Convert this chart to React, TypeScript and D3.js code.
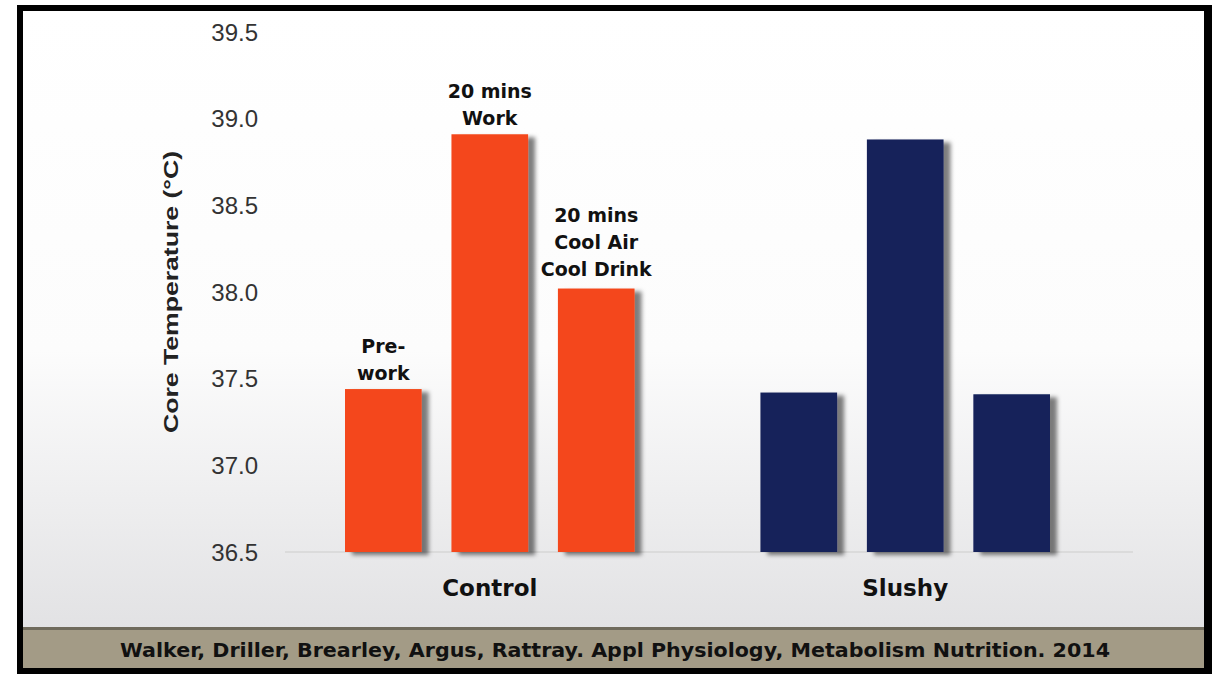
import React from "react";
import * as d3 from "d3";

const groups = ["Control", "Slushy"];
const phases = ["Pre-work", "20 mins Work", "20 mins Cool"];
const controlValues = [37.44, 38.91, 38.02];
const slushyValues = [37.42, 38.88, 37.41];
const yTicks = [36.5, 37.0, 37.5, 38.0, 38.5, 39.0, 39.5];
const controlLabels = [["Pre-", "work"], ["20 mins", "Work"], ["20 mins", "Cool Air", "Cool Drink"]];
const groupColors = ["#f4471a", "#12205a"];
const yTitle = "Core Temperature (°C)";
const citation = "Walker, Driller, Brearley, Argus, Rattray. Appl Physiology, Metabolism Nutrition. 2014";

const W = 1220;
const H = 674;

export default function App() {
  const y = d3.scaleLinear().domain([36.5, 39.5]).range([552, 32]);
  const xGroup = d3.scaleBand().domain(groups).range([345, 1050]).paddingInner(0.303).paddingOuter(0);
  const xInner = d3.scaleBand().domain(phases).range([0, xGroup.bandwidth()]).paddingInner(0.28).paddingOuter(0);
  const seriesByGroup = [controlValues, slushyValues];
  const labelFont = "'DejaVu Sans', sans-serif";

  return (
    <div style={{ position: "fixed", left: 0, top: 0, width: W, height: H, background: "#fff" }}>
      <svg width={W} height={H} viewBox={`0 0 ${W} ${H}`}>
        <defs>
          <linearGradient id="bg" x1="0" y1="0" x2="0" y2="1">
            <stop offset="0%" stopColor="#ffffff" />
            <stop offset="55%" stopColor="#fcfcfc" />
            <stop offset="100%" stopColor="#e2e2e4" />
          </linearGradient>
          <filter id="shadow" x="-20%" y="-10%" width="150%" height="120%">
            <feDropShadow dx="7" dy="3" stdDeviation="2.2" floodColor="#000" floodOpacity="0.5" />
          </filter>
        </defs>
        {/* frame */}
        <rect x={17} y={5} width={1195} height={669} fill="#000" />
        <rect x={23} y={11} width={1181} height={617} fill="url(#bg)" />
        <rect x={23} y={628} width={1181} height={40} fill="#a39b86" />
        <rect x={23} y={627} width={1181} height={3} fill="#6f6a5c" />
        <text
          x={615}
          y={657}
          textAnchor="middle"
          fontFamily={labelFont}
          fontWeight="bold"
          fontSize={19}
          fill="#111"
          textLength={990}
          lengthAdjust="spacingAndGlyphs"
        >
          {citation}
        </text>

        {/* baseline */}
        <line x1={285} x2={1133} y1={y(36.5)} y2={y(36.5)} stroke="#d6d6d6" strokeWidth={1.5} />

        {/* y ticks */}
        {yTicks.map((t) => (
          <text
            key={t}
            x={258}
            y={y(t)}
            dy="0.36em"
            textAnchor="end"
            fontFamily="'Liberation Sans', Arial, sans-serif"
            fontSize={24}
            fill="#333"
          >
            {d3.format(".1f")(t)}
          </text>
        ))}

        {/* y title */}
        <text
          transform={`translate(178,${y(38.0)}) rotate(-90)`}
          textAnchor="middle"
          fontFamily="'Liberation Sans', Arial, sans-serif"
          fontWeight="bold"
          fontSize={21}
          fill="#222"
          textLength={282}
          lengthAdjust="spacingAndGlyphs"
        >
          {yTitle}
        </text>

        {/* bars */}
        {groups.map((g, gi) => (
          <g key={g} transform={`translate(${xGroup(g)},0)`}>
            {phases.map((p, pi) => {
              const v = seriesByGroup[gi][pi];
              return (
                <rect
                  key={p}
                  x={xInner(p)}
                  y={y(v)}
                  width={xInner.bandwidth()}
                  height={y(36.5) - y(v)}
                  fill={groupColors[gi]}
                  filter="url(#shadow)"
                />
              );
            })}
            <text
              x={xGroup.bandwidth() / 2}
              y={596}
              textAnchor="middle"
              fontFamily={labelFont}
              fontWeight="bold"
              fontSize={23}
              fill="#111"
            >
              {g}
            </text>
          </g>
        ))}

        {/* control bar labels */}
        {phases.map((p, pi) => {
          const cx = (xGroup("Control") as number) + (xInner(p) as number) + xInner.bandwidth() / 2;
          const lines = controlLabels[pi];
          const top = y(controlValues[pi]);
          const gap = lines.length > 2 ? 13 : 9;
          return (
            <text
              key={p}
              x={cx}
              textAnchor="middle"
              fontFamily={labelFont}
              fontWeight="bold"
              fontSize={19}
              fill="#111"
            >
              {lines.map((l, li) => (
                <tspan key={li} x={cx} y={top - gap - (lines.length - 1 - li) * 27}>
                  {l}
                </tspan>
              ))}
            </text>
          );
        })}
      </svg>
    </div>
  );
}
